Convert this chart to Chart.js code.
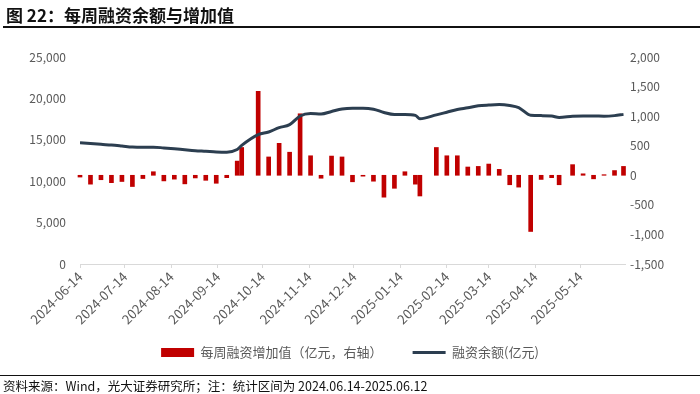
<!DOCTYPE html>
<html lang="zh">
<head>
<meta charset="utf-8">
<script src="https://cdn.jsdelivr.net/npm/chart.js@4.4.1/dist/chart.umd.min.js"></script>
<style>
  html, body { margin: 0; padding: 0; background: #fff; }
  #wrap { position: relative; width: 700px; height: 394px; overflow: hidden; font-family: "Noto Sans CJK SC", "Noto Sans", sans-serif; }
  #chart { position: absolute; left: 0; top: 0; }
  .title { position: absolute; left: 6px; top: 2px; font-size: 17px; font-weight: bold; color: #111; }
  .rule-top { position: absolute; left: 3px; right: 0; top: 26px; height: 2px; background: #111; }
  .rule-bottom { position: absolute; left: 0; right: 0; top: 375px; height: 1px; background: #111; }
  .source { position: absolute; left: 3px; top: 376px; font-size: 12.5px; color: #111; }
</style>
</head>
<body>
<div id="wrap">
  <canvas id="chart" width="700" height="394"></canvas>
  <div class="title">图 22：每周融资余额与增加值</div>
  <div class="rule-top"></div>
  <div class="rule-bottom"></div>
  <div class="source">资料来源：Wind，光大证券研究所；注：统计区间为 2024.06.14-2025.06.12</div>
</div>
<script>
// --- Data ---
const weekDates = [
  '2024-06-14','2024-06-21','2024-06-28','2024-07-05','2024-07-12','2024-07-19','2024-07-26',
  '2024-08-02','2024-08-09','2024-08-16','2024-08-23','2024-08-30','2024-09-06','2024-09-13',
  '2024-09-20','2024-09-27','2024-09-30','2024-10-11','2024-10-18','2024-10-25','2024-11-01',
  '2024-11-08','2024-11-15','2024-11-22','2024-11-29','2024-12-06','2024-12-13','2024-12-20',
  '2024-12-27','2025-01-03','2025-01-10','2025-01-17','2025-01-24','2025-01-27','2025-02-07',
  '2025-02-14','2025-02-21','2025-02-28','2025-03-07','2025-03-14','2025-03-21','2025-03-28',
  '2025-04-03','2025-04-11','2025-04-18','2025-04-25','2025-04-30','2025-05-09','2025-05-16',
  '2025-05-23','2025-05-30','2025-06-06','2025-06-12'
];

// 每周融资增加值（亿元，右轴）
const weeklyChange = [
  -30, -150, -75, -125, -105, -190, -55,
  60, -95, -65, -145, -45, -85, -135,
  -40, 240, 470, 1420, 310, 540, 390,
  1040, 330, -50, 325, 310, -110, -15,
  -100, -370, -220, 60, -150, -350, 470,
  330, 330, 140, 150, 190, 100, -160,
  -200, -950, -70, -40, -160, 180, 25,
  -60, 10, 80, 150
];

// 融资余额(亿元)
const balance = [
  14650, 14550, 14450, 14370, 14250, 14120, 14090,
  14110, 14020, 13920, 13800, 13690, 13620, 13540,
  13510, 13830, 14320, 15620, 15940, 16470, 16830,
  17880, 18170, 18120, 18420, 18730, 18820, 18820,
  18700, 18300, 18050, 18070, 17950, 17540, 18010,
  18330, 18650, 18860, 19100, 19200, 19260, 19150,
  18900, 17960, 17920, 17880, 17700, 17840, 17880,
  17880, 17850, 17920, 18070
];

const tickDates = [
  '2024-06-14','2024-07-14','2024-08-14','2024-09-14','2024-10-14','2024-11-14',
  '2024-12-14','2025-01-14','2025-02-14','2025-03-14','2025-04-14','2025-05-14'
];

// --- Date helpers (x axis is days since first week) ---
const DAY = 86400000;
const t0 = Date.parse(weekDates[0]);
const dayOf = s => (Date.parse(s) - t0) / DAY;
const dateLabel = d => new Date(t0 + d * DAY).toISOString().slice(0, 10);
const fmt = v => Number(v).toLocaleString('en-US');

const FONT = '"Noto Sans CJK SC", "Noto Sans", sans-serif';
const GREY = '#595959';

new Chart(document.getElementById('chart'), {
  data: {
    datasets: [{
      type: 'bar',
      label: '每周融资增加值（亿元，右轴）',
      data: weekDates.map((d, i) => ({ x: dayOf(d), y: weeklyChange[i] })),
      backgroundColor: '#c00000',
      borderWidth: 0,
      barThickness: 4,
      yAxisID: 'y1',
      pointStyle: 'rect',
      clip: 8,
      order: 1
    }, {
      type: 'line',
      label: '融资余额(亿元)',
      data: weekDates.map((d, i) => ({ x: dayOf(d), y: balance[i] })),
      borderColor: '#2c3e50',
      backgroundColor: '#2c3e50',
      borderWidth: 3,
      pointRadius: 0,
      cubicInterpolationMode: 'monotone',
      yAxisID: 'y',
      pointStyle: 'line',
      order: 0
    }]
  },
  options: {
    responsive: false,
    animation: false,
    devicePixelRatio: 1,
    layout: { padding: { top: 57, left: 0, right: 0, bottom: 25 } },
    plugins: {
      tooltip: { enabled: false },
      legend: {
        position: 'bottom',
        maxHeight: 53,
        labels: {
          usePointStyle: true,
          pointStyleWidth: 33,
          boxHeight: 9,
          padding: 30,
          color: GREY,
          font: { family: FONT, size: 13 },
          sort: (a, b) => a.datasetIndex - b.datasetIndex
        }
      }
    },
    scales: {
      x: {
        type: 'linear',
        offset: false,
        min: 0,
        max: 364,
        afterBuildTicks: s => { s.ticks = tickDates.map(d => ({ value: dayOf(d) })); },
        afterFit: s => {
          s.height = 52;
          s.paddingLeft = 0;
          s.paddingRight = 0;
          s._computeLabelArea = () => null; // rotated labels run into the legend band
        },
        ticks: {
          autoSkip: false,
          minRotation: 45,
          maxRotation: 45,
          padding: 1,
          color: GREY,
          font: { family: FONT, size: 13 },
          callback: v => dateLabel(v)
        },
        grid: { offset: false, drawOnChartArea: false, drawTicks: true, tickLength: 4, color: '#d9d9d9' },
        border: { display: true, color: '#d9d9d9' }
      },
      y: {
        position: 'left',
        min: 0,
        max: 25000,
        afterFit: s => { s.width = 80; },
        ticks: {
          stepSize: 5000,
          padding: 14,
          color: GREY,
          font: { family: FONT, size: 12 },
          callback: v => fmt(v)
        },
        grid: { display: false, drawTicks: false },
        border: { display: false }
      },
      y1: {
        position: 'right',
        min: -1500,
        max: 2000,
        afterFit: s => { s.width = 75; },
        ticks: {
          stepSize: 500,
          padding: 5,
          color: GREY,
          font: { family: FONT, size: 12 },
          callback: v => fmt(v)
        },
        grid: { display: false, drawTicks: false },
        border: { display: false }
      }
    }
  }
});
</script>
</body>
</html>
